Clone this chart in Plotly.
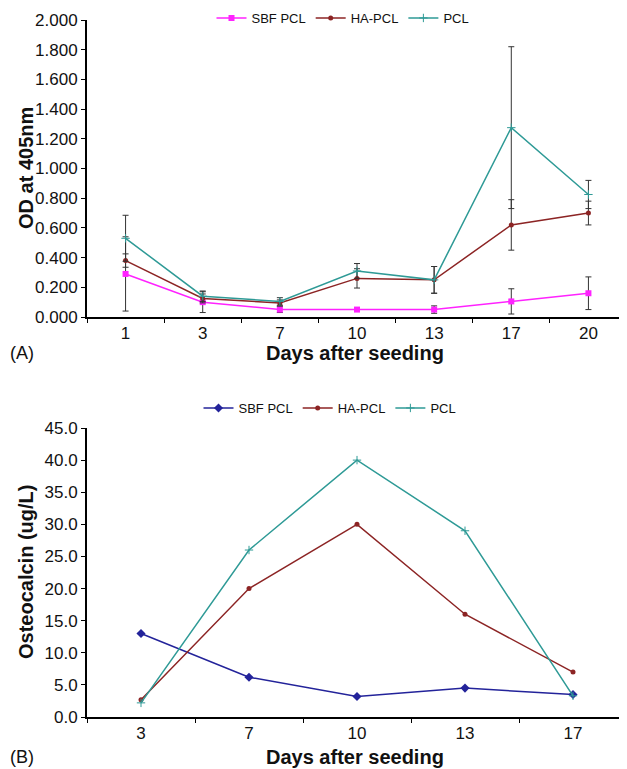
import plotly.graph_objects as go

# Panel A data
days_a = ["1", "3", "7", "10", "13", "17", "20"]
sbf_a = [0.29, 0.10, 0.05, 0.05, 0.05, 0.105, 0.16]
sbf_a_err = [0.25, 0.07, 0.02, 0.01, 0.025, 0.085, 0.11]
ha_a = [0.38, 0.125, 0.095, 0.26, 0.25, 0.62, 0.70]
ha_a_err = [0.045, 0.03, 0.02, 0.065, 0.09, 0.17, 0.08]
pcl_a = [0.53, 0.14, 0.105, 0.31, 0.25, 1.275, 0.825]
pcl_a_err = [0.155, 0.035, 0.025, 0.05, 0.09, 0.545, 0.095]
yticks_a = [0, 0.2, 0.4, 0.6, 0.8, 1.0, 1.2, 1.4, 1.6, 1.8, 2.0]
ytext_a = ["0.000", "0.200", "0.400", "0.600", "0.800", "1.000", "1.200", "1.400", "1.600", "1.800", "2.000"]

# Panel B data
days_b = ["3", "7", "10", "13", "17"]
sbf_b = [13.0, 6.2, 3.2, 4.5, 3.5]
ha_b = [2.7, 20.0, 30.0, 16.0, 7.0]
pcl_b = [2.2, 26.0, 40.0, 29.0, 3.3]
yticks_b = [0, 5, 10, 15, 20, 25, 30, 35, 40, 45]
ytext_b = ["0.0", "5.0", "10.0", "15.0", "20.0", "25.0", "30.0", "35.0", "40.0", "45.0"]

MAGENTA = "#ff22ff"
RED = "#8c2424"
TEAL = "#2e9a96"
NAVY = "#23239a"
ERR = "#333333"
FONT = "Liberation Sans"

# page body adds an 8px offset; size the figure so it fills the window
OFF = 8.0
W = 627.0 - OFF
H = 769.0 - OFF

def px(x):
    return (x - OFF) / W

def py(y):
    return (H - (y - OFF)) / H

fig = go.Figure()

def err(vals):
    return dict(type="data", array=vals, visible=True, color=ERR, thickness=1, width=3)

fig.add_trace(go.Scatter(x=days_a, y=sbf_a, name="SBF PCL", mode="lines+markers",
                         line=dict(color=MAGENTA, width=1.5),
                         marker=dict(symbol="square", size=6, color=MAGENTA),
                         error_y=err(sbf_a_err), xaxis="x", yaxis="y", legend="legend"))
fig.add_trace(go.Scatter(x=days_a, y=ha_a, name="HA-PCL", mode="lines+markers",
                         line=dict(color=RED, width=1.5),
                         marker=dict(symbol="circle", size=5, color=RED),
                         error_y=err(ha_a_err), xaxis="x", yaxis="y", legend="legend"))
fig.add_trace(go.Scatter(x=days_a, y=pcl_a, name="PCL", mode="lines+markers",
                         line=dict(color=TEAL, width=1.5),
                         marker=dict(symbol="cross-thin", size=6, color=TEAL, line=dict(color=TEAL, width=1)),
                         error_y=err(pcl_a_err), xaxis="x", yaxis="y", legend="legend"))

fig.add_trace(go.Scatter(x=days_b, y=sbf_b, name="SBF PCL", mode="lines+markers",
                         line=dict(color=NAVY, width=1.5),
                         marker=dict(symbol="diamond", size=7, color=NAVY),
                         xaxis="x2", yaxis="y2", legend="legend2"))
fig.add_trace(go.Scatter(x=days_b, y=ha_b, name="HA-PCL", mode="lines+markers",
                         line=dict(color=RED, width=1.5),
                         marker=dict(symbol="circle", size=5, color=RED),
                         xaxis="x2", yaxis="y2", legend="legend2"))
fig.add_trace(go.Scatter(x=days_b, y=pcl_b, name="PCL", mode="lines+markers",
                         line=dict(color=TEAL, width=1.5),
                         marker=dict(symbol="cross-thin", size=6, color=TEAL, line=dict(color=TEAL, width=1)),
                         xaxis="x2", yaxis="y2", legend="legend2"))

xdom = [px(87), 1.0]
ydom_a = [py(317), py(20)]
ydom_b = [py(717), py(428)]

axis_common = dict(showline=True, linecolor="black", linewidth=2, showgrid=False, zeroline=False,
                   ticks="outside", ticklen=4, tickcolor="black", automargin=False,
                   tickfont=dict(family=FONT, size=17, color="#111"))

fig.update_layout(
    width=int(W), height=int(H),
    margin=dict(l=0, r=0, t=0, b=0, autoexpand=False),
    paper_bgcolor="white", plot_bgcolor="white",
    font=dict(family=FONT, color="#111"),
    xaxis=dict(domain=xdom, anchor="y", type="category", range=[-0.5, 6.5],
               tickson="boundaries", **axis_common),
    yaxis=dict(domain=ydom_a, anchor="x", range=[0, 2.0], tickvals=yticks_a, ticktext=ytext_a,
               **axis_common),
    xaxis2=dict(domain=xdom, anchor="y2", type="category", range=[-0.5, 4.5],
                tickson="boundaries", **axis_common),
    yaxis2=dict(domain=ydom_b, anchor="x2", range=[0, 45], tickvals=yticks_b, ticktext=ytext_b,
                **axis_common),
    legend=dict(orientation="h", x=px(343), xanchor="center", y=py(18), yanchor="middle",
                font=dict(family=FONT, size=13), bgcolor="rgba(0,0,0,0)", itemwidth=30),
    legend2=dict(orientation="h", x=px(330), xanchor="center", y=py(408), yanchor="middle",
                 font=dict(family=FONT, size=13), bgcolor="rgba(0,0,0,0)", itemwidth=30),
    showlegend=True,
)

ann = dict(xref="paper", yref="paper", showarrow=False)
fig.add_annotation(text="<b>OD at 405nm</b>", x=px(26), y=py(168), textangle=-90,
                   font=dict(family=FONT, size=20), xanchor="center", yanchor="middle", **ann)
fig.add_annotation(text="<b>Osteocalcin (ug/L)</b>", x=px(26), y=py(572), textangle=-90,
                   font=dict(family=FONT, size=20), xanchor="center", yanchor="middle", **ann)
fig.add_annotation(text="<b>Days after seeding</b>", x=px(355), y=py(353),
                   font=dict(family=FONT, size=20), xanchor="center", yanchor="middle", **ann)
fig.add_annotation(text="<b>Days after seeding</b>", x=px(355), y=py(757),
                   font=dict(family=FONT, size=20), xanchor="center", yanchor="middle", **ann)
fig.add_annotation(text="(A)", x=px(8), y=py(353),
                   font=dict(family=FONT, size=18), xanchor="left", yanchor="middle", **ann)
fig.add_annotation(text="(B)", x=px(8), y=py(757),
                   font=dict(family=FONT, size=18), xanchor="left", yanchor="middle", **ann)

fig.write_html("out.html")
